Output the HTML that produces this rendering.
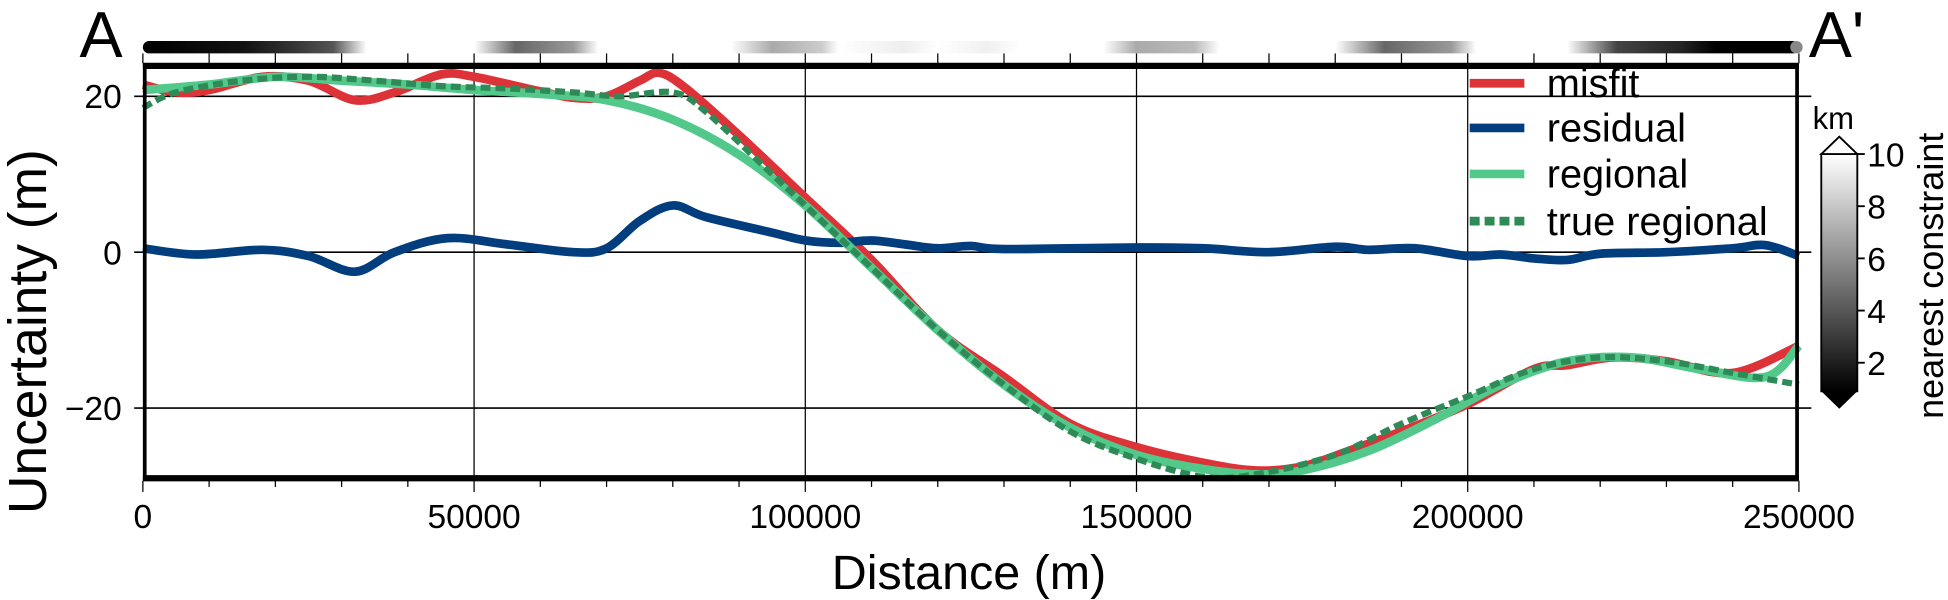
<!DOCTYPE html>
<html><head><meta charset="utf-8"><style>
html,body{margin:0;padding:0;background:#fff;}
svg{display:block;font-family:"Liberation Sans",sans-serif;}
</style></head><body>
<svg id="s" width="1948" height="600" viewBox="0 0 1568 483" preserveAspectRatio="none" xmlns="http://www.w3.org/2000/svg">
<defs>
<linearGradient id="bar" x1="115" x2="1448" gradientUnits="userSpaceOnUse">
<stop offset="0" stop-color="#000"/>
<stop offset="0.06" stop-color="#111"/>
<stop offset="0.09" stop-color="#333"/>
<stop offset="0.115" stop-color="#555"/>
<stop offset="0.135" stop-color="#fff"/>
<stop offset="0.2" stop-color="#fff"/>
<stop offset="0.225" stop-color="#666"/>
<stop offset="0.26" stop-color="#999"/>
<stop offset="0.275" stop-color="#fff"/>
<stop offset="0.355" stop-color="#fff"/>
<stop offset="0.38" stop-color="#aaa"/>
<stop offset="0.41" stop-color="#ccc"/>
<stop offset="0.42" stop-color="#fff"/>
<stop offset="0.46" stop-color="#eee"/>
<stop offset="0.48" stop-color="#fff"/>
<stop offset="0.51" stop-color="#f0f0f0"/>
<stop offset="0.53" stop-color="#fff"/>
<stop offset="0.58" stop-color="#fff"/>
<stop offset="0.6" stop-color="#aaa"/>
<stop offset="0.635" stop-color="#bbb"/>
<stop offset="0.65" stop-color="#fff"/>
<stop offset="0.72" stop-color="#fff"/>
<stop offset="0.75" stop-color="#666"/>
<stop offset="0.79" stop-color="#999"/>
<stop offset="0.805" stop-color="#fff"/>
<stop offset="0.86" stop-color="#fff"/>
<stop offset="0.89" stop-color="#444"/>
<stop offset="0.93" stop-color="#222"/>
<stop offset="0.95" stop-color="#000"/>
<stop offset="1" stop-color="#000"/>
</linearGradient>
<linearGradient id="cb" x1="0" y1="0" x2="0" y2="1">
<stop offset="0" stop-color="#fff"/><stop offset="1" stop-color="#000"/>
</linearGradient>
</defs>
<text x="64" y="46" font-size="52">A</text>
<text x="1456" y="46" font-size="52">A'</text>
<rect x="115" y="33" width="1333" height="10" rx="5" fill="url(#bar)"/>
<circle cx="1446" cy="38" r="5" fill="#888"/>
<g id="grid" stroke="#000" stroke-width="1"></g>
<g id="series" fill="none"></g>
<rect x="116.5" y="53" width="1330" height="332" fill="none" stroke="#000" stroke-width="3"/>
<line x1="115" y1="53" x2="1448" y2="53" stroke="#000" stroke-width="5"/>
<line x1="115" y1="385" x2="1448" y2="385" stroke="#000" stroke-width="5"/>
<g id="ticks" stroke="#000" stroke-width="1"></g>
<g font-size="27" text-anchor="end">
<text x="98" y="87">20</text><text x="98" y="213">0</text><text x="98" y="338">−20</text>
</g>
<g id="xl" font-size="27" text-anchor="middle"></g>
<text x="780" y="474" font-size="39" text-anchor="middle">Distance (m)</text>
<text transform="translate(37,267) rotate(-90)" font-size="43" text-anchor="middle">Uncertainty (m)</text>
<!-- legend -->
<g stroke-width="7">
<line x1="1183" y1="67" x2="1227" y2="67" stroke="#dc3238"/>
<line x1="1183" y1="103" x2="1227" y2="103" stroke="#023e7d"/>
<line x1="1183" y1="140" x2="1227" y2="140" stroke="#52c98b"/>
<line x1="1183" y1="178" x2="1227" y2="178" stroke="#2e8b57" stroke-dasharray="8,4"/>
</g>
<g font-size="32">
<text x="1245" y="78">misfit</text>
<text x="1245" y="114">residual</text>
<text x="1245" y="151">regional</text>
<text x="1245" y="189">true regional</text>
</g>
<!-- colorbar -->
<rect x="1466" y="124" width="29" height="191" fill="url(#cb)" stroke="#000" stroke-width="1.5"/>
<polygon points="1466,124 1495,124 1480.5,110" fill="#fff" stroke="#000" stroke-width="1.5"/>
<polygon points="1466,315 1495,315 1480.5,329" fill="#000"/>
<g stroke="#000" stroke-width="1.5"><line x1="1495" y1="124" x2="1501" y2="124"/><line x1="1495" y1="166" x2="1501" y2="166"/><line x1="1495" y1="208" x2="1501" y2="208"/><line x1="1495" y1="250" x2="1501" y2="250"/><line x1="1495" y1="292" x2="1501" y2="292"/></g>
<g font-size="27">
<text x="1503" y="134">10</text><text x="1503" y="176">8</text><text x="1503" y="218">6</text><text x="1503" y="260">4</text><text x="1503" y="302">2</text>
</g>
<text x="1459" y="104" font-size="25">km</text>
<text transform="translate(1564,222) rotate(-90)" font-size="29" text-anchor="middle">nearest constraint</text>
</svg>
<script>
var NS="http://www.w3.org/2000/svg";
function X(d){return 115+d/250000*1333;}
function Y(v){return 203-v*6.275;}
function el(p,t,a,txt){var e=document.createElementNS(NS,t);for(var k in a)e.setAttribute(k,a[k]);if(txt!==undefined)e.textContent=txt;p.appendChild(e);return e;}
var g=document.getElementById('grid');
[50000,100000,150000,200000].forEach(function(d){el(g,'line',{x1:X(d),y1:53,x2:X(d),y2:385});});
[20,0,-20].forEach(function(v){el(g,'line',{x1:108,y1:Y(v),x2:1458,y2:Y(v),'stroke-width':1.3});});
var t=document.getElementById('ticks');
for(var d=0;d<=250000;d+=10000){var big=d%50000==0;el(t,'line',{x1:X(d),y1:43,x2:X(d),y2:51});el(t,'line',{x1:X(d),y1:387,x2:X(d),y2:big?396:392});}
var xl=document.getElementById('xl');
for(var d=0;d<=250000;d+=50000)el(xl,'text',{x:X(d),y:425},String(d));
function path(pts){var P=pts.map(function(p){return [X(p[0]*1000),Y(p[1])];});var s="M"+P[0][0]+","+P[0][1];
for(var i=0;i<P.length-1;i++){var p0=P[i-1]||P[i],p1=P[i],p2=P[i+1],p3=P[i+2]||P[i+1];
s+=" C"+(p1[0]+(p2[0]-p0[0])/6)+","+(p1[1]+(p2[1]-p0[1])/6)+" "+(p2[0]-(p3[0]-p1[0])/6)+","+(p2[1]-(p3[1]-p1[1])/6)+" "+p2[0]+","+p2[1];}return s;}
var misfit=[[0,21.5],[5,20.5],[10,20.8],[18,22.5],[25,22],[32,19.5],[38,20.5],[45,22.8],[50,22.5],[58,21],[65,19.8],[70,20],[75,22],[78,23],[82,21],[90,15],[100,7],[110,-1],[120,-10],[130,-16],[140,-22],[150,-25],[160,-27],[168,-28],[175,-27.5],[182,-25.5],[190,-23],[200,-19.5],[210,-15],[215,-14.5],[222,-13.5],[230,-14],[240,-15.5],[250,-12]];
var reg=[[0,20.8],[10,21.5],[20,22.5],[30,22],[40,21.5],[50,20.8],[60,20.3],[70,19.5],[80,17],[90,12.5],[100,6],[110,-2],[120,-10],[130,-17],[140,-22.5],[150,-26],[160,-27.8],[168,-28.5],[175,-28],[185,-25.5],[195,-21.5],[205,-17],[215,-14],[225,-13.5],[235,-15],[245,-16],[250,-12]];
var tru=[[0,18.5],[5,20.5],[15,22],[25,22.5],[35,22],[45,21.3],[55,21],[65,20.5],[72,20],[80,20.5],[85,18],[95,10],[100,6],[110,-2],[120,-10],[130,-17],[140,-23],[150,-26.5],[160,-28.8],[168,-28.5],[180,-26],[190,-22],[200,-18.5],[210,-15],[220,-13.5],[230,-14],[240,-15.5],[250,-17]];
var res=[[0,0.5],[8,-0.3],[18,0.3],[25,-0.5],[32,-2.5],[38,0],[46,1.8],[55,1],[65,0],[70,0.5],[75,4],[80,6],[85,4.5],[95,2.5],[100,1.5],[105,1.2],[110,1.5],[115,1],[120,0.5],[125,0.8],[130,0.4],[150,0.6],[160,0.5],[170,0],[180,0.7],[185,0.3],[192,0.5],[200,-0.5],[205,-0.3],[210,-0.8],[215,-1],[220,-0.2],[230,0],[240,0.5],[245,0.9],[250,-0.5]];
var s=document.getElementById('series');
el(s,'path',{d:path(misfit),stroke:'#dc3238','stroke-width':7});
el(s,'path',{d:path(res),stroke:'#023e7d','stroke-width':7});
el(s,'path',{d:path(reg),stroke:'#52c98b','stroke-width':7});
el(s,'path',{d:path(tru),stroke:'#2e8b57','stroke-width':5,'stroke-dasharray':'8,4'});
</script>
</body></html>
